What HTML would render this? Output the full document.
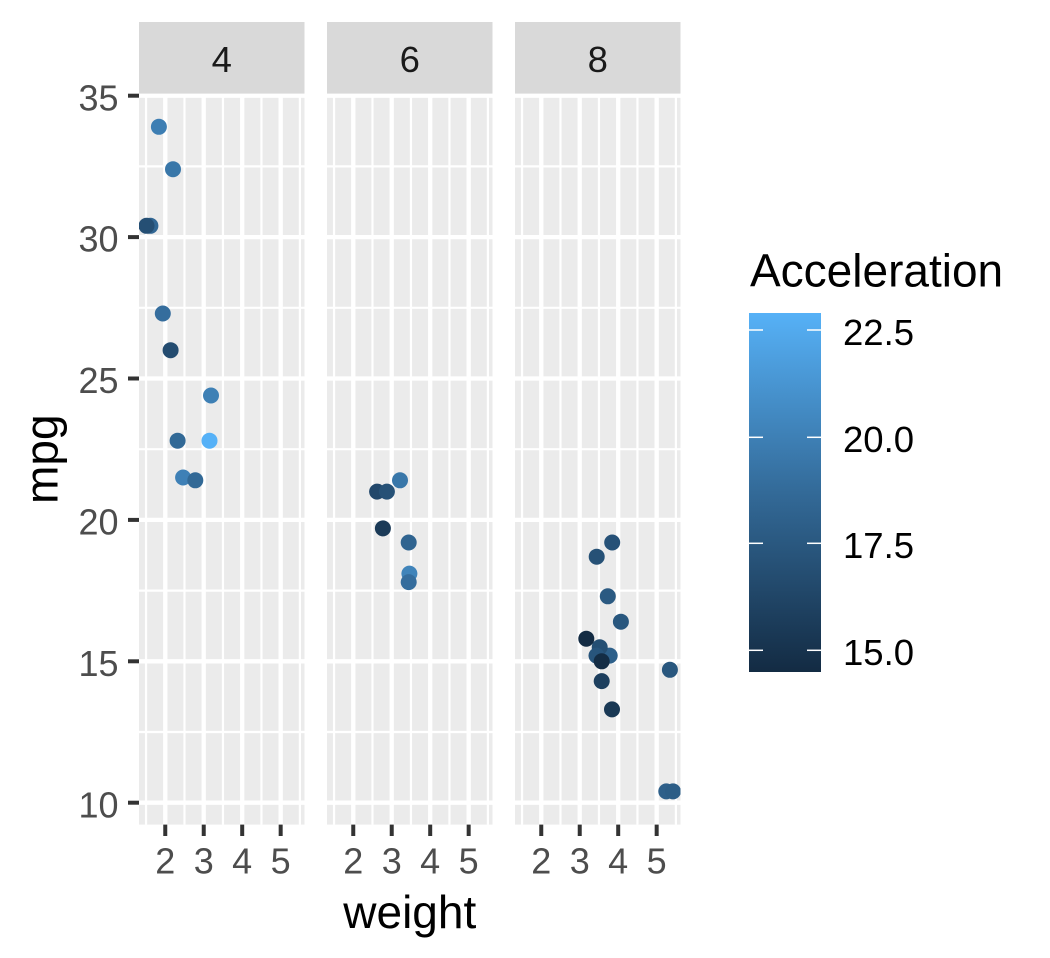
<!DOCTYPE html>
<html>
<head>
<meta charset="utf-8">
<style>
html,body{margin:0;padding:0;background:#fff;}
svg{display:block;}
text{font-family:"Liberation Sans",Arial,sans-serif;}
</style>
</head>
<body>
<svg width="1050" height="958" viewBox="0 0 1050 958" xmlns="http://www.w3.org/2000/svg">
<defs>
  <clipPath id="c1"><rect x="139" y="93.6" width="165.5" height="731"/></clipPath>
  <clipPath id="c2"><rect x="327" y="93.6" width="165.5" height="731"/></clipPath>
  <clipPath id="c3"><rect x="515" y="93.6" width="165.5" height="731"/></clipPath>
  <linearGradient id="lg" x1="0" y1="0" x2="0" y2="1">
    <stop offset="0" stop-color="#56B1F7"/>
    <stop offset="0.5" stop-color="#336A98"/>
    <stop offset="1" stop-color="#132B43"/>
  </linearGradient>
  <g id="grid">
    <rect x="0" y="93.6" width="165.5" height="731" fill="#EBEBEB"/>
    <g stroke="#FFFFFF" stroke-width="2.2">
      <line x1="0" x2="165.5" y1="166.4" y2="166.4"/>
      <line x1="0" x2="165.5" y1="307.8" y2="307.8"/>
      <line x1="0" x2="165.5" y1="449.2" y2="449.2"/>
      <line x1="0" x2="165.5" y1="590.6" y2="590.6"/>
      <line x1="0" x2="165.5" y1="732.0" y2="732.0"/>
      <line y1="93.6" y2="824.6" x1="7.02" x2="7.02"/>
      <line y1="93.6" y2="824.6" x1="45.49" x2="45.49"/>
      <line y1="93.6" y2="824.6" x1="83.96" x2="83.96"/>
      <line y1="93.6" y2="824.6" x1="122.43" x2="122.43"/>
      <line y1="93.6" y2="824.6" x1="160.9" x2="160.9"/>
    </g>
    <g stroke="#FFFFFF" stroke-width="4.3">
      <line x1="0" x2="165.5" y1="95.7" y2="95.7"/>
      <line x1="0" x2="165.5" y1="237.1" y2="237.1"/>
      <line x1="0" x2="165.5" y1="378.5" y2="378.5"/>
      <line x1="0" x2="165.5" y1="519.9" y2="519.9"/>
      <line x1="0" x2="165.5" y1="661.3" y2="661.3"/>
      <line x1="0" x2="165.5" y1="802.7" y2="802.7"/>
      <line y1="93.6" y2="824.6" x1="26.26" x2="26.26"/>
      <line y1="93.6" y2="824.6" x1="64.73" x2="64.73"/>
      <line y1="93.6" y2="824.6" x1="103.2" x2="103.2"/>
      <line y1="93.6" y2="824.6" x1="141.67" x2="141.67"/>
    </g>
    <rect x="0" y="22" width="165.5" height="71.6" fill="#D9D9D9"/>
    <g stroke="#333333" stroke-width="4">
      <line y1="824.6" y2="836" x1="26.26" x2="26.26"/>
      <line y1="824.6" y2="836" x1="64.73" x2="64.73"/>
      <line y1="824.6" y2="836" x1="103.2" x2="103.2"/>
      <line y1="824.6" y2="836" x1="141.67" x2="141.67"/>
    </g>
    <g fill="#4D4D4D" font-size="36" text-anchor="middle">
      <text x="26.26" y="873.5">2</text>
      <text x="64.73" y="873.5">3</text>
      <text x="103.2" y="873.5">4</text>
      <text x="141.67" y="873.5">5</text>
    </g>
  </g>
</defs>

<!-- panels -->
<use href="#grid" x="139" y="0"/>
<use href="#grid" x="327" y="0"/>
<use href="#grid" x="515" y="0"/>

<!-- strip labels -->
<g fill="#1A1A1A" font-size="36.5" text-anchor="middle">
  <text x="221.75" y="72">4</text>
  <text x="409.75" y="72">6</text>
  <text x="597.75" y="72">8</text>
</g>

<!-- y axis ticks and labels -->
<g stroke="#333333" stroke-width="4">
  <line x1="128" x2="139" y1="95.7" y2="95.7"/>
  <line x1="128" x2="139" y1="237.1" y2="237.1"/>
  <line x1="128" x2="139" y1="378.5" y2="378.5"/>
  <line x1="128" x2="139" y1="519.9" y2="519.9"/>
  <line x1="128" x2="139" y1="661.3" y2="661.3"/>
  <line x1="128" x2="139" y1="802.7" y2="802.7"/>
</g>
<g fill="#4D4D4D" font-size="36" text-anchor="end">
  <text x="118.5" y="110.3">35</text>
  <text x="118.5" y="251.7">30</text>
  <text x="118.5" y="393.1">25</text>
  <text x="118.5" y="534.5">20</text>
  <text x="118.5" y="675.9">15</text>
  <text x="118.5" y="817.3">10</text>
</g>

<!-- axis titles -->
<text x="409.75" y="928" font-size="46" text-anchor="middle" fill="#000">weight</text>
<text x="0" y="0" font-size="46" text-anchor="middle" fill="#000" transform="translate(57.3,459.2) rotate(-90)">mpg</text>

<!-- points cyl 4 -->
<g clip-path="url(#c1)">
  <circle cx="177.6" cy="440.7" r="8" fill="rgb(50,105,150)"/>
  <circle cx="211.0" cy="395.5" r="8" fill="rgb(62,128,181)"/>
  <circle cx="209.5" cy="440.7" r="8" fill="rgb(86,177,247)"/>
  <circle cx="173.0" cy="169.2" r="8" fill="rgb(57,119,169)"/>
  <circle cx="150.4" cy="225.8" r="8" fill="rgb(50,103,148)"/>
  <circle cx="158.9" cy="126.8" r="8" fill="rgb(61,126,179)"/>
  <circle cx="183.1" cy="477.5" r="8" fill="rgb(62,128,182)"/>
  <circle cx="162.8" cy="313.5" r="8" fill="rgb(53,109,157)"/>
  <circle cx="170.6" cy="350.2" r="8" fill="rgb(36,76,112)"/>
  <circle cx="146.5" cy="225.8" r="8" fill="rgb(37,79,116)"/>
  <circle cx="195.3" cy="480.3" r="8" fill="rgb(50,105,150)"/>
</g>

<!-- points cyl 6 -->
<g clip-path="url(#c2)">
  <circle cx="377.1" cy="491.6" r="8" fill="rgb(34,72,107)"/>
  <circle cx="386.9" cy="491.6" r="8" fill="rgb(38,81,118)"/>
  <circle cx="400.0" cy="480.3" r="8" fill="rgb(57,119,169)"/>
  <circle cx="409.4" cy="573.6" r="8" fill="rgb(64,132,186)"/>
  <circle cx="408.7" cy="542.5" r="8" fill="rgb(48,100,144)"/>
  <circle cx="408.7" cy="582.1" r="8" fill="rgb(53,109,157)"/>
  <circle cx="382.9" cy="528.4" r="8" fill="rgb(27,58,87)"/>
</g>

<!-- points cyl 8 -->
<g clip-path="url(#c3)">
  <circle cx="596.7" cy="556.7" r="8" fill="rgb(38,81,118)"/>
  <circle cx="601.7" cy="681.1" r="8" fill="rgb(29,63,94)"/>
  <circle cx="620.9" cy="621.7" r="8" fill="rgb(41,87,126)"/>
  <circle cx="607.8" cy="596.3" r="8" fill="rgb(43,90,130)"/>
  <circle cx="609.7" cy="655.6" r="8" fill="rgb(46,96,138)"/>
  <circle cx="666.3" cy="791.4" r="8" fill="rgb(46,95,137)"/>
  <circle cx="673.0" cy="791.4" r="8" fill="rgb(44,93,134)"/>
  <circle cx="669.9" cy="669.8" r="8" fill="rgb(41,87,126)"/>
  <circle cx="599.7" cy="647.2" r="8" fill="rgb(37,79,115)"/>
  <circle cx="596.5" cy="655.6" r="8" fill="rgb(40,85,124)"/>
  <circle cx="612.0" cy="709.4" r="8" fill="rgb(26,57,85)"/>
  <circle cx="612.2" cy="542.5" r="8" fill="rgb(38,81,119)"/>
  <circle cx="586.3" cy="638.7" r="8" fill="rgb(19,43,67)"/>
  <circle cx="601.7" cy="661.3" r="8" fill="rgb(20,45,69)"/>
</g>

<!-- legend -->
<text x="750" y="286.7" font-size="46" fill="#000">Acceleration</text>
<rect x="749" y="313" width="72" height="359" fill="url(#lg)"/>
<g stroke="#FFFFFF" stroke-width="1.5">
  <line x1="749" x2="763" y1="330" y2="330"/><line x1="807" x2="821" y1="330" y2="330"/>
  <line x1="749" x2="763" y1="437.3" y2="437.3"/><line x1="807" x2="821" y1="437.3" y2="437.3"/>
  <line x1="749" x2="763" y1="543.3" y2="543.3"/><line x1="807" x2="821" y1="543.3" y2="543.3"/>
  <line x1="749" x2="763" y1="650.3" y2="650.3"/><line x1="807" x2="821" y1="650.3" y2="650.3"/>
</g>
<g fill="#000" font-size="36.5">
  <text x="843" y="344.9">22.5</text>
  <text x="843" y="452">20.0</text>
  <text x="843" y="558">17.5</text>
  <text x="843" y="665">15.0</text>
</g>
</svg>
</body>
</html>
